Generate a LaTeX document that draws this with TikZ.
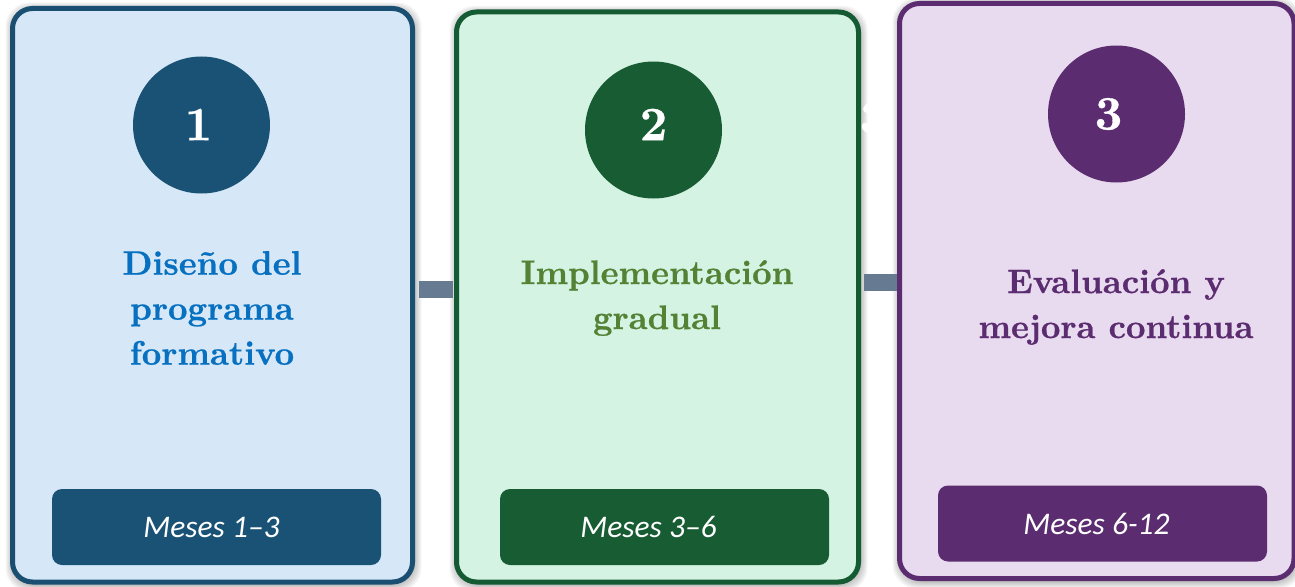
\documentclass[tikz,border=0pt]{standalone}
\usepackage{fontspec}
\newfontfamily\calfont{Carlito}
\newfontfamily\titlefont{lmroman10-bold.otf}[FakeBold=0.6]
\usetikzlibrary{calc}
\definecolor{bluefill}{HTML}{D6E8F7}
\definecolor{blueline}{HTML}{1B4F72}
\definecolor{bluedark}{HTML}{1A5276}
\definecolor{bluetext}{HTML}{0770C0}
\definecolor{greenfill}{HTML}{D4F3E3}
\definecolor{greenline}{HTML}{145A32}
\definecolor{greendark}{HTML}{175C33}
\definecolor{greentext}{HTML}{548235}
\definecolor{purpfill}{HTML}{E8DAEF}
\definecolor{purpline}{HTML}{5B2C6F}
\definecolor{purpdark}{HTML}{5B2C6F}
\definecolor{conncol}{HTML}{667A92}
\tikzset{
  card/.style={rectangle, rounded corners=20pt, line width=5pt, inner sep=0pt},
  badge/.style={circle, minimum size=137pt, inner sep=0pt, text=white,
    font=\titlefont\fontsize{48}{48}\selectfont},
  titletext/.style={align=center, font=\titlefont\fontsize{34}{45}\selectfont},
  periodbox/.style={rectangle, rounded corners=10pt, minimum width=329pt,
    minimum height=76pt, inner sep=0pt, text=white,
    font=\calfont\itshape\fontsize{31.5}{31.5}\selectfont},
  conn/.style={line width=17pt, draw=conncol},
  softshadow/.style={fill=black, opacity=0.035, rounded corners=24pt}
}
\begin{document}
\begin{tikzpicture}[x=1pt,y=-1pt]
\useasboundingbox (0,0) rectangle (1295,586);
\fill[white] (0,0) rectangle (1295,586);
% soft shadows
\foreach \k in {1,...,8}{
  \fill[softshadow] (12.5-\k+1,8.5-\k+2) rectangle (412.5+\k+1,582+\k+2);
  \fill[softshadow] (456.5-\k+1,12-\k+2) rectangle (858.5+\k+1,582+\k+2);
  \fill[softshadow] (899.5-\k+1,3.5-\k+2) rectangle (1294+\k+1,578.5+\k+2);
}
% cards
\node[card, draw=blueline, fill=bluefill, minimum width=400pt, minimum height=573.5pt] (card1) at (212.5,295.25) {};
\node[card, draw=greenline, fill=greenfill, minimum width=402pt, minimum height=570pt] (card2) at (657.5,297) {};
\node[card, draw=purpline, fill=purpfill, minimum width=394.5pt, minimum height=575pt] (card3) at (1096.75,291) {};
% connectors
\draw[conn] ([xshift=4pt,yshift=5.75pt]card1.east) -- ([xshift=-1pt,yshift=7.5pt]card2.west);
\draw[conn] ([xshift=3pt,yshift=14.5pt]card2.east) -- ([yshift=8.5pt]card3.west);
% ghost label
\node[text=white, font=\titlefont\fontsize{46}{46}\selectfont] (ghost) at (873,118) {3};
% badges
\node[badge, fill=bluedark] (b1) at (201.5,125) {\hspace*{-6pt}\raisebox{1pt}{1}};
\node[badge, fill=greendark] (b2) at (653.5,130) {\raisebox{11pt}{2}};
\node[badge, fill=purpdark] (b3) at (1116.5,114) {\hspace*{-16pt}\raisebox{-2pt}{3}};
% titles
\node[titletext, text=bluetext] (t1) at (212,308) {Diseño del\\programa\\formativo};
\node[titletext, text=greentext] (t2) at (657,298) {Implementación\\gradual};
\node[titletext, text=purpline] (t3) at (1116,307) {Evaluación y\\mejora continua};
% period boxes
\node[periodbox, fill=bluedark] (p1) at (216.5,527) {\hspace*{-10pt}Meses 1–3};
\node[periodbox, fill=greendark] (p2) at (664.5,527) {\hspace*{-32pt}Meses 3–6};
\node[periodbox, fill=purpdark] (p3) at (1102.5,523.5) {\hspace*{-12pt}Meses 6-12};
\end{tikzpicture}
\end{document}
